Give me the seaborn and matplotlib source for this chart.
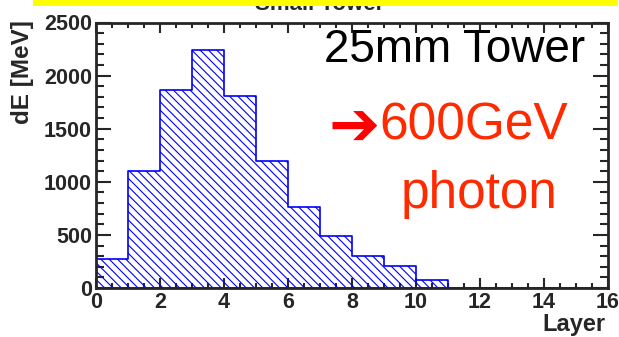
import numpy as np
import pandas as pd
import seaborn as sns
import matplotlib
matplotlib.use("Agg")
import matplotlib.pyplot as plt
from matplotlib.patches import Rectangle

# energy deposit per layer (bin edges 0..16)
layers = np.arange(16)
de_mev = [275, 1100, 1865, 2245, 1805, 1195, 760, 485, 300, 205, 75, 0, 0, 0, 0, 0]
x_ticks = [0, 2, 4, 6, 8, 10, 12, 14, 16]
y_ticks = [0, 500, 1000, 1500, 2000, 2500]

df = pd.DataFrame({"layer": layers + 0.5, "dE": de_mev})

sns.set_style("ticks")
plt.rcParams["font.family"] = ["Liberation Sans", "DejaVu Sans"]
plt.rcParams["hatch.color"] = "blue"
plt.rcParams["hatch.linewidth"] = 0.8

fig = plt.figure(figsize=(6.19, 3.37), dpi=100)
ax = fig.add_axes([96 / 619, 49 / 337, 512 / 619, 265.5 / 337])

sns.histplot(data=df, x="layer", weights="dE", bins=16, binrange=(0, 16),
             element="step", fill=True, color="blue", alpha=1, ax=ax, linewidth=1.2)
for coll in ax.collections:
    coll.set_facecolor("none")
    coll.set_edgecolor("blue")
    coll.set_hatch("\\\\\\\\")

ax.set_xlim(0, 16)
ax.set_ylim(0, 2500)
ax.set_xticks(x_ticks)
ax.set_yticks(y_ticks)
ax.set_xticks(np.arange(0, 16.01, 0.5), minor=True)
ax.set_yticks(np.arange(0, 2501, 100), minor=True)
ax.tick_params(which="both", direction="in", top=True, right=True, width=1.5)
ax.tick_params(axis="x", which="major", length=7, pad=3)
ax.tick_params(axis="x", which="minor", length=3.5)
ax.tick_params(axis="y", which="major", length=11, pad=3)
ax.tick_params(axis="y", which="minor", length=6)
for lab in ax.get_xticklabels() + ax.get_yticklabels():
    lab.set_fontweight("bold")
    lab.set_fontsize(15.5)
for sp in ax.spines.values():
    sp.set_linewidth(2)
    sp.set_visible(True)

ax.set_xlabel("")
ax.set_ylabel("")
fig.text(605 / 619, 1 - 331 / 337, "Layer", ha="right", va="baseline",
         fontsize=17, fontweight="bold")
fig.text(22 / 619, 1 - 72 / 337, "dE [MeV]", rotation=90, ha="center", va="center",
         fontsize=17.5, fontweight="bold")

ax.text(15.28, 2128, "25mm Tower", ha="right", va="baseline", fontsize=33, color="black")
ax.text(7.28, 1490, "\u2794", ha="left", va="center", fontsize=44, color="#ff0000",
        family=["DejaVu Sans"], fontweight="bold")
ax.text(8.85, 1395, "600GeV", ha="left", va="baseline", fontsize=37, color="#ff2a00")
ax.text(11.97, 755, "photon", ha="center", va="baseline", fontsize=37, color="#ff2a00")

# cut-off title under the yellow banner
fig.text(320 / 619, 1 - 10 / 337, "Small Tower", ha="center", va="baseline",
         fontsize=16, fontweight="bold")
fig.patches.append(Rectangle((33 / 619, 1 - 5.5 / 337), 585 / 619, 6 / 337,
                             transform=fig.transFigure, facecolor="#ffff00",
                             edgecolor="none", zorder=10))

fig.savefig("out.png", dpi=100)
